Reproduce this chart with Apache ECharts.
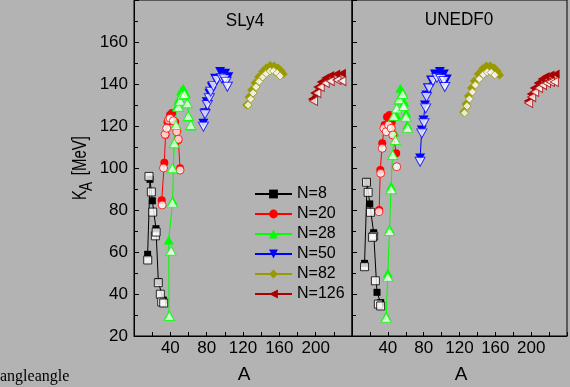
<!DOCTYPE html>
<html>
<head>
<meta charset="utf-8">
<script src="https://cdn.jsdelivr.net/npm/echarts@6/dist/echarts.min.js"></script>
<style>
html,body{margin:0;padding:0;background:#b3b3b3;}
#chart{width:570px;height:387px;}
</style>
</head>
<body>
<div id="chart"></div>
<script>
// ---------- Data: [A, K_A (MeV)] ----------
const panelTitles = ['SLy4', 'UNEDF0'];
const isotoneNames = ['N=8', 'N=20', 'N=28', 'N=50', 'N=82', 'N=126'];
const xTickValues = [40, 80, 120, 160, 200];
const yTickValues = [20, 40, 60, 80, 100, 120, 140, 160];

// SLy4 (left panel) - filled markers joined by lines
const sly4_N8_filled = [[15,58.9],[17.6,94.6],[20.2,84.4],[24.2,71.1],[26.8,45.9],[32.3,37.1]];
const sly4_N20_filled = [[30.5,84.6],[33.4,102.5],[34.7,115.7],[36.9,121.9],[39.7,125.2],[41.9,126.2],[45.2,121.9],[47.4,118],[48.8,113.3],[50.7,99.9]];
const sly4_N28_filled = [[38.6,30],[38.2,65.7],[42.6,84.4],[43.3,99.9],[44.4,111.8],[45.2,120.5],[47,129.2],[48.8,132.4],[51.8,136.7],[54.3,138],[57,135.6],[58.7,130.8],[60.6,124.4],[62.5,120]];
const sly4_N50_filled = [[76.4,121.3],[78.2,126.3],[80.1,131.6],[83,135.6],[85.6,138.7],[89.3,142.7],[94.8,145.9],[100.3,145.1],[103.9,143.5]];
const sly4_N82_filled = [[124.2,130],[126.7,133.8],[129.5,137.1],[133.3,140.5],[137.2,143.3],[141.6,146],[145.5,147.6],[149.9,148.8],[154.3,148.6],[158.7,147.6],[162,146.2],[164.2,144.8]];
const sly4_N126_filled = [[195.8,132.9],[198.3,135.7],[201.7,138.6],[205.5,141],[210.5,142.9],[216,144],[222.6,144.8],[228.9,145.1]];
// SLy4 - open markers
const sly4_N8_open = [[16.5,96],[19.1,88.6],[20.6,79],[23.5,67.7],[24.4,69.5],[15.1,56.2],[26.8,45.4],[29,39.9],[30.5,36.2],[32.7,35.7]];
const sly4_N20_open = [[31,82.4],[32.5,100],[34.2,116],[36,118.9],[38,122.9],[39.7,123.7],[43.3,122.5],[47,117.3],[48.8,113.7],[50.7,99]];
const sly4_N28_open = [[38.9,29.5],[40.8,60.6],[42.2,83.5],[42.2,99.9],[44.4,111.8],[46.3,120.5],[48.8,129.2],[50.7,132],[52.9,134.8],[55.4,135.2],[58.7,130.8],[59.8,124.8],[62.5,120.5]];
const sly4_N50_open = [[76.4,119.7],[78.2,125.6],[80.8,130],[83,133.2],[84.5,136.3],[87.4,139],[91.1,141.9],[96.6,142.7],[99.5,142.2],[101.4,141.1],[102.8,138.7]];
const sly4_N82_open = [[125.6,130],[128.4,132.9],[131.1,135.7],[134.4,138.6],[137.7,141.2],[141.6,143.3],[145.5,145],[149.9,146.2],[153.7,146.2],[157.6,145.2],[160.9,143.8]];
const sly4_N126_open = [[197.6,131.9],[201.3,135.7],[205,138.6],[210.5,140.5],[216,141.4],[223.4,141.9],[228.9,141.4]];

// UNEDF0 (right panel) - filled markers joined by lines
const unedf0_N8_filled = [[14,54.6],[16.9,93.5],[19.8,82.9],[24.2,69.2],[27.9,40.8],[32,35.9]];
const unedf0_N20_filled = [[30.3,80],[31.6,99],[33.8,111.8],[36.4,120.5],[39.1,124.3],[41.9,125.2],[44.1,121.9],[46.3,115.7],[49.3,107]];
const unedf0_N28_filled = [[38.2,29.5],[40,50],[41.9,71],[43.7,91.4],[45.2,106.2],[47.4,117.1],[49.6,125.2],[51.8,132.4],[54,138],[56.5,136.2],[58.4,131.4],[60.6,126.2],[61.7,120.5]];
const unedf0_N50_filled = [[76,104.8],[77.9,118.1],[79.9,122.9],[81.5,130],[83.2,134.8],[84.8,138.1],[88.2,141.9],[92.6,144.8],[98.1,146],[102.5,144.8],[105.8,142.4]];
const unedf0_N82_filled = [[124.5,126.7],[127.3,130.5],[130,134.3],[133.3,138.1],[136.6,141.4],[141,144.8],[145.5,147.1],[149.9,148.6],[154.3,148.6],[158.7,147.6],[162,146.2],[164.7,144.3]];
const unedf0_N126_filled = [[196.1,131.9],[199.4,135.2],[202.8,138.1],[207.2,140.5],[211.6,142.4],[216,143.6],[221.5,144.3],[227.3,144.8]];
// UNEDF0 - open markers
const unedf0_N8_open = [[16.2,93.2],[18,88.4],[20.6,78.9],[24.2,67.6],[22.8,67],[14,53],[26.1,46.3],[29.4,35.2],[32,34.3]];
const unedf0_N20_open = [[30.1,79.2],[32,97.5],[33.8,109.4],[35.6,118.9],[38.2,117.3],[40.8,120.5],[43.7,118.9],[45.5,115.7],[49.9,100.6]];
const unedf0_N28_open = [[38.2,28.7],[40,48.2],[41.9,70],[43.7,89.9],[45.5,106.2],[48.5,113.3],[46.6,124.8],[49.9,128.4],[52.9,132.7],[56.5,135.2],[57.6,129.5],[60.3,124.4],[62.1,119.2]];
const unedf0_N50_open = [[76,103],[77.9,116.5],[80.4,121.3],[82.3,128.4],[83.2,133.8],[85.9,137.9],[90.4,141.4],[94.8,142.9],[99.2,142.4],[102.5,141.4],[103.6,138.6]];
const unedf0_N82_open = [[125.6,126.2],[128.4,129.5],[131.1,132.9],[134.4,136.2],[137.7,139.5],[142.1,142.4],[146.6,144.5],[151,145.7],[155.4,145.5],[159.4,144.3]];
const unedf0_N126_open = [[197.2,131],[200.6,133.8],[203.9,136.2],[208.3,138.1],[212.7,139.5],[217.1,140.5],[221.5,141],[225.9,141]];

// ---------- Styling ----------
const FONT = '"Liberation Sans", Arial, sans-serif';
const styles = [
  {color:'#000000', symbol:'rect', rot:0, size:7, osize:8},
  {color:'#ff0000', symbol:'circle', rot:0, size:8, osize:8},
  {color:'#00ff00', symbol:'triangle', rot:0, size:[10,9], osize:[10,9]},
  {color:'#0000ff', symbol:'triangle', rot:180, size:[10,9], osize:[10,9]},
  {color:'#999900', symbol:'diamond', rot:0, size:9, osize:8},
  {color:'#aa0000', symbol:'triangle', rot:90, size:[9,8], osize:[9,8]}
];
const panels = [
  {filled:[sly4_N8_filled,sly4_N20_filled,sly4_N28_filled,sly4_N50_filled,sly4_N82_filled,sly4_N126_filled],
   open:[sly4_N8_open,sly4_N20_open,sly4_N28_open,sly4_N50_open,sly4_N82_open,sly4_N126_open]},
  {filled:[unedf0_N8_filled,unedf0_N20_filled,unedf0_N28_filled,unedf0_N50_filled,unedf0_N82_filled,unedf0_N126_filled],
   open:[unedf0_N8_open,unedf0_N20_open,unedf0_N28_open,unedf0_N50_open,unedf0_N82_open,unedf0_N126_open]}
];

const series = [];
panels.forEach((p, gi) => {
  isotoneNames.forEach((nm, i) => {
    const s = styles[i];
    series.push({
      type:'line', name:nm, xAxisIndex:gi, yAxisIndex:gi, data:p.filled[i],
      symbol:s.symbol, symbolRotate:s.rot, symbolSize:s.size, showSymbol:true,
      lineStyle:{color:s.color, width:1}, itemStyle:{color:s.color, borderWidth:0},
      animation:false, silent:true, clip:false, z:2
    });
    series.push({
      type:'scatter', name:nm + ' open', xAxisIndex:gi, yAxisIndex:gi, data:p.open[i],
      symbol:s.symbol, symbolRotate:s.rot, symbolSize:s.osize,
      itemStyle:{color:'#ffffff', borderColor:s.color, borderWidth:1},
      animation:false, silent:true, clip:false, z:3
    });
  });
});

function xAxis(gi) {
  return {
    type:'value', gridIndex:gi, min:0, max:240, interval:40,
    axisLine:{show:true, lineStyle:{color:'#000', width:1}},
    axisTick:{show:true, inside:true, length:4, lineStyle:{color:'#000'}},
    minorTick:{show:true, splitNumber:2, length:4, lineStyle:{color:'#000'}},
    splitLine:{show:false},
    axisLabel:{show:true, margin:4, fontSize:17, color:'#000', fontFamily:FONT,
      formatter: v => xTickValues.indexOf(v) >= 0 ? String(v) : ''}
  };
}
function yAxis(gi) {
  return {
    type:'value', gridIndex:gi, min:20, max:180, interval:20,
    axisLine:{show:true, lineStyle:{color:'#000', width:1}},
    axisTick:{show:true, inside:true, length:5, lineStyle:{color:'#000'}},
    minorTick:{show:true, splitNumber:2, length:4, lineStyle:{color:'#000'}},
    splitLine:{show:false},
    axisLabel:{show: gi === 0, margin:6, fontSize:17, color:'#000', fontFamily:FONT,
      formatter: v => yTickValues.indexOf(v) >= 0 ? String(v) : ''}
  };
}

const option = {
  backgroundColor:'#b3b3b3',
  animation:false,
  grid:[
    {left:134, top:0, width:218, height:336, show:true, borderColor:'#000', borderWidth:1, backgroundColor:'transparent'},
    {left:352, top:0, width:217, height:336, show:true, borderColor:'#000', borderWidth:1, backgroundColor:'transparent'}
  ],
  xAxis:[xAxis(0), xAxis(1)],
  yAxis:[yAxis(0), yAxis(1)],
  legend:{
    data:isotoneNames, orient:'vertical', left:254, top:186, padding:0,
    itemWidth:37, itemHeight:11, itemGap:4, selectedMode:false,
    textStyle:{fontSize:16, color:'#000', fontFamily:FONT}
  },
  graphic:[
    {type:'text', x:245, y:21, scaleX:0.9, style:{text:panelTitles[0], font:'19px ' + FONT, fill:'#000', align:'center', verticalAlign:'middle'}},
    {type:'text', x:459, y:20, scaleX:0.9, style:{text:panelTitles[1], font:'19px ' + FONT, fill:'#000', align:'center', verticalAlign:'middle'}},
    {type:'text', x:244, y:375, style:{text:'A', font:'19px ' + FONT, fill:'#000', align:'center', verticalAlign:'middle'}},
    {type:'text', x:461, y:375, style:{text:'A', font:'19px ' + FONT, fill:'#000', align:'center', verticalAlign:'middle'}},
    {type:'group', x:80, y:200, rotation:Math.PI/2, scaleX:0.75, children:[
      {type:'text', x:0, y:0, style:{text:'K', font:'20px ' + FONT, fill:'#000', align:'left', verticalAlign:'middle'}},
      {type:'text', x:12, y:7, style:{text:'A', font:'18px ' + FONT, fill:'#000', align:'left', verticalAlign:'middle'}},
      {type:'text', x:33, y:0, style:{text:'[MeV]', font:'20px ' + FONT, fill:'#000', align:'left', verticalAlign:'middle'}}
    ]},
    {type:'text', x:0, y:377, style:{text:'angleangle', font:'16px "Liberation Serif", "DejaVu Serif", serif', fill:'#000', align:'left', verticalAlign:'middle'}}
  ],
  series:series
};

const chart = echarts.init(document.getElementById('chart'), null, {renderer:'canvas'});
chart.setOption(option);
</script>
</body>
</html>
